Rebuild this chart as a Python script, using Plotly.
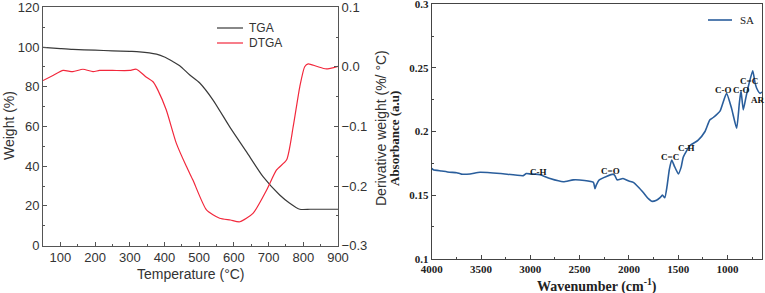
import plotly.graph_objects as go

# ---------------- data: TGA / DTGA ----------------
tga_temp = [50, 100, 136, 200, 250, 300, 328, 377, 400, 425, 444, 473, 501, 540, 588, 636, 684, 732, 760, 790, 820, 860, 900]
tga_weight = [99.8, 99.2, 98.8, 98.4, 98.1, 97.8, 97.6, 96.4, 95.0, 92.6, 90.6, 85.9, 82.0, 73.3, 59.8, 47.3, 34.7, 25.5, 21.5, 18.3, 18.3, 18.3, 18.3]

dtga_temp = [50, 80, 108, 136, 165, 194, 213, 250, 300, 319, 348, 367, 381, 405, 434, 463, 482, 521, 559, 590, 617, 655, 694, 723, 752, 771, 790, 804, 814, 838, 866, 900]
dtga_value = [-0.023, -0.014, -0.006, -0.008, -0.004, -0.008, -0.006, -0.006, -0.006, -0.004, -0.0175, -0.025, -0.039, -0.072, -0.128, -0.167, -0.19, -0.24, -0.254, -0.257, -0.26, -0.246, -0.207, -0.173, -0.156, -0.10, -0.033, 0.0003, 0.005, 0.001, -0.0035, 0.001]

# ---------------- data: FTIR ----------------
ir_wave = [4000, 3984, 3900, 3820, 3746, 3700, 3612, 3510, 3300, 3071, 3040, 2990, 2950, 2900, 2800, 2665, 2565, 2450, 2360, 2344, 2330, 2300, 2157, 2140, 2120, 2060, 2000, 1955, 1900, 1854, 1800, 1769, 1720, 1684, 1660, 1636, 1613, 1590, 1566, 1540, 1498, 1470, 1448, 1380, 1300, 1228, 1180, 1144, 1076, 1040, 1009, 958, 907, 880, 863, 840, 815, 790, 744, 720, 704, 670, 650]
ir_abs = [0.171, 0.170, 0.169, 0.168, 0.1676, 0.1665, 0.1666, 0.168, 0.167, 0.1653, 0.167, 0.1665, 0.1665, 0.166, 0.163, 0.1605, 0.162, 0.1615, 0.160, 0.155, 0.158, 0.162, 0.1665, 0.165, 0.162, 0.163, 0.161, 0.160, 0.156, 0.152, 0.147, 0.1451, 0.146, 0.148, 0.150, 0.148, 0.157, 0.170, 0.1776, 0.173, 0.1666, 0.172, 0.180, 0.189, 0.193, 0.200, 0.209, 0.211, 0.216, 0.224, 0.230, 0.218, 0.2025, 0.222, 0.232, 0.217, 0.226, 0.235, 0.2478, 0.238, 0.234, 0.230, 0.231]

peak_labels = ["C-H", "C=O", "C=C", "C-H", "C-O", "C-O", "C=C", "AR"]
peak_wave = [2918, 2185, 1583, 1420, 1040, 858, 779, 688]
peak_abs = [0.168, 0.169, 0.180, 0.187, 0.2325, 0.2325, 0.2395, 0.2248]

left_xticks = [100, 200, 300, 400, 500, 600, 700, 800, 900]
right_xticks = [4000, 3500, 3000, 2500, 2000, 1500, 1000]
right_yticks = [0.1, 0.15, 0.2, 0.25, 0.3]
right_yticktext = ["0.1", "0.15", "0.2", "0.25", "0.3"]

W, H = 765, 293
def px(x):
    return x / W
def py(y):
    return 1 - y / H

SANS = "Liberation Sans, Arial, sans-serif"
SERIF = "Liberation Serif, Times New Roman, serif"
LGRAY = "#555555"
DGRAY = "#333333"

fig = go.Figure()
fig.add_trace(go.Scatter(x=tga_temp, y=tga_weight, mode="lines", name="TGA",
                         line=dict(color="#3a3a3a", width=1.2, shape="spline", smoothing=0.6),
                         xaxis="x", yaxis="y", showlegend=False))
fig.add_trace(go.Scatter(x=dtga_temp, y=dtga_value, mode="lines", name="DTGA",
                         line=dict(color="#f2283c", width=1.2, shape="spline", smoothing=0.6),
                         xaxis="x", yaxis="y2", showlegend=False))
fig.add_trace(go.Scatter(x=ir_wave, y=ir_abs, mode="lines", name="SA",
                         line=dict(color="#2a5e9c", width=1.6, shape="spline", smoothing=0.5),
                         xaxis="x2", yaxis="y3", showlegend=False))

axis_left = dict(showline=True, linecolor=LGRAY, linewidth=1, ticks="inside", ticklen=4,
                 tickcolor=LGRAY, showgrid=False, zeroline=False, automargin=False,
                 ticklabeloverflow="allow",
                 tickfont=dict(family=SANS, size=13, color=DGRAY))
axis_right = dict(showline=True, linecolor="#444444", linewidth=1, ticks="inside", ticklen=4,
                  tickcolor="#444444", showgrid=False, zeroline=False, automargin=False,
                  ticklabeloverflow="allow",
                  tickfont=dict(family=SERIF, size=11, color="#222222", weight="bold"))

fig.update_layout(
    width=W, height=H,
    margin=dict(l=0, r=0, t=0, b=0, autoexpand=False),
    paper_bgcolor="white", plot_bgcolor="white",
    showlegend=False,
    xaxis=dict(domain=[px(43), px(338)], range=[50, 900], tickvals=left_xticks, anchor="y",
               mirror=True, minor=dict(dtick=50, ticks="inside", ticklen=2, tickcolor=LGRAY),
               **axis_left),
    yaxis=dict(domain=[py(245.6), py(7.3)], range=[0, 120], dtick=20, anchor="x",
               minor=dict(dtick=10, ticks="inside", ticklen=2, tickcolor=LGRAY), **axis_left),
    yaxis2=dict(overlaying="y", side="right", anchor="x", range=[-0.3, 0.1], dtick=0.1,
                tickformat=".1f", minor=dict(dtick=0.05, ticks="inside", ticklen=2, tickcolor=LGRAY),
                **axis_left),
    xaxis2=dict(domain=[px(431.7), px(762)], range=[4000, 650], tickvals=right_xticks, anchor="y3",
                mirror=True, minor=dict(dtick=250, ticks="inside", ticklen=2, tickcolor="#444444"),
                **axis_right),
    yaxis3=dict(domain=[py(258.7), py(4.3)], range=[0.1, 0.3], tickvals=right_yticks,
                ticktext=right_yticktext, anchor="x2", mirror=True,
                minor=dict(dtick=0.025, ticks="inside", ticklen=2, tickcolor="#444444"),
                **axis_right),
)

def label(text, x, y, font, angle=0, xanchor="center"):
    return dict(text=text, x=px(x), y=py(y), xref="paper", yref="paper", textangle=angle,
                xanchor=xanchor, yanchor="middle", showarrow=False, font=font)

ann = []
# axis titles
ann.append(label("Temperature (°C)", 191, 274, dict(family=SANS, size=14, color=DGRAY)))
ann.append(label("Weight (%)", 9, 126, dict(family=SANS, size=14, color=DGRAY), angle=-90))
ann.append(label("Derivative weight (%/ °C)", 381, 128, dict(family=SANS, size=14, color=DGRAY), angle=-90))
ann.append(label("Wavenumber (cm<sup>-1</sup>)", 597, 285,
                 dict(family=SERIF, size=14, color="#222222", weight="bold")))
ann.append(label("Absorbance (a.u)", 394, 138,
                 dict(family=SERIF, size=13, color="#222222", weight="bold"), angle=-90))
# peak labels
for t, xw, ya in zip(peak_labels, peak_wave, peak_abs):
    ann.append(dict(text=t, x=xw, y=ya, xref="x2", yref="y3", showarrow=False,
                    xanchor="center", yanchor="middle",
                    font=dict(family=SERIF, size=9, color="#111111", weight="bold")))
# legends
ann.append(label("TGA", 247, 28, dict(family=SANS, size=12, color=DGRAY), xanchor="left"))
ann.append(label("DTGA", 247, 43, dict(family=SANS, size=12, color=DGRAY), xanchor="left"))
ann.append(label("SA", 738, 20, dict(family=SERIF, size=11, color="#222222"), xanchor="left"))
fig.update_layout(annotations=ann)

fig.add_shape(type="line", xref="paper", yref="paper", x0=px(217), x1=px(243), y0=py(28), y1=py(28),
              line=dict(color="#3a3a3a", width=1.2))
fig.add_shape(type="line", xref="paper", yref="paper", x0=px(217), x1=px(243), y0=py(43), y1=py(43),
              line=dict(color="#f2283c", width=1.2))
fig.add_shape(type="line", xref="paper", yref="paper", x0=px(708), x1=px(732), y0=py(20), y1=py(20),
              line=dict(color="#2a5e9c", width=1.6))

fig.write_html("out.html", config={"displayModeBar": False},
               post_script="document.body.style.margin='0';document.body.style.padding='0';")
